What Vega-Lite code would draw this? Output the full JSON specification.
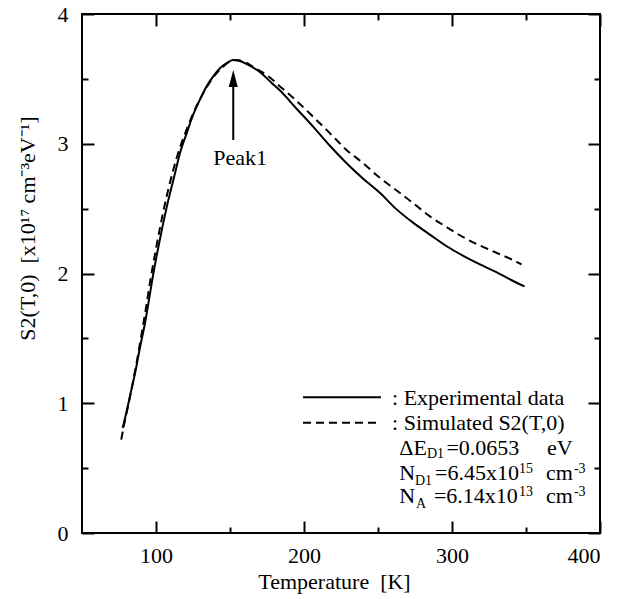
{
  "$schema": "https://vega.github.io/schema/vega-lite/v6.json",
  "width": 518,
  "height": 519,
  "autosize": {"type": "none"},
  "padding": {"left": 82, "top": 14, "right": 33, "bottom": 66},
  "background": "white",
  "config": {
    "view": {"stroke": "black", "strokeWidth": 2},
    "font": "Liberation Serif, Times New Roman, serif",
    "axis": {
      "domain": false, "grid": false, "tickColor": "black", "tickWidth": 2,
      "labelFont": "Liberation Serif, Times New Roman, serif", "labelFontSize": 22, "labelColor": "black",
      "titleFont": "Liberation Serif, Times New Roman, serif", "titleFontSize": 22, "titleFontWeight": "normal", "titleColor": "black"
    }
  },
  "datasets": {
    "curves": [
      {"series": "Experimental", "T": 77.5, "S": 0.81},
      {"series": "Experimental", "T": 80, "S": 0.93},
      {"series": "Experimental", "T": 83, "S": 1.085},
      {"series": "Experimental", "T": 86, "S": 1.24},
      {"series": "Experimental", "T": 89, "S": 1.42},
      {"series": "Experimental", "T": 92.6, "S": 1.62},
      {"series": "Experimental", "T": 95, "S": 1.78},
      {"series": "Experimental", "T": 98.2, "S": 2.0},
      {"series": "Experimental", "T": 101, "S": 2.17},
      {"series": "Experimental", "T": 104.9, "S": 2.39},
      {"series": "Experimental", "T": 108, "S": 2.55},
      {"series": "Experimental", "T": 112.8, "S": 2.77},
      {"series": "Experimental", "T": 116, "S": 2.92},
      {"series": "Experimental", "T": 120.7, "S": 3.08},
      {"series": "Experimental", "T": 125, "S": 3.22},
      {"series": "Experimental", "T": 129.7, "S": 3.34},
      {"series": "Experimental", "T": 134, "S": 3.44},
      {"series": "Experimental", "T": 138.7, "S": 3.52},
      {"series": "Experimental", "T": 143, "S": 3.58},
      {"series": "Experimental", "T": 148.8, "S": 3.63},
      {"series": "Experimental", "T": 152, "S": 3.645},
      {"series": "Experimental", "T": 156, "S": 3.64},
      {"series": "Experimental", "T": 162, "S": 3.61},
      {"series": "Experimental", "T": 168, "S": 3.57},
      {"series": "Experimental", "T": 172.5, "S": 3.53},
      {"series": "Experimental", "T": 178, "S": 3.47},
      {"series": "Experimental", "T": 183.8, "S": 3.41},
      {"series": "Experimental", "T": 195, "S": 3.27},
      {"series": "Experimental", "T": 206.3, "S": 3.13},
      {"series": "Experimental", "T": 217, "S": 2.99},
      {"series": "Experimental", "T": 228.8, "S": 2.85},
      {"series": "Experimental", "T": 240, "S": 2.73},
      {"series": "Experimental", "T": 251.4, "S": 2.62},
      {"series": "Experimental", "T": 262, "S": 2.5},
      {"series": "Experimental", "T": 273.9, "S": 2.39},
      {"series": "Experimental", "T": 285, "S": 2.3},
      {"series": "Experimental", "T": 296.4, "S": 2.21},
      {"series": "Experimental", "T": 307, "S": 2.14},
      {"series": "Experimental", "T": 318.9, "S": 2.07},
      {"series": "Experimental", "T": 330, "S": 2.01},
      {"series": "Experimental", "T": 340, "S": 1.95},
      {"series": "Experimental", "T": 349, "S": 1.9},
      {"series": "Simulated", "T": 76.5, "S": 0.72},
      {"series": "Simulated", "T": 78, "S": 0.81},
      {"series": "Simulated", "T": 81, "S": 0.97},
      {"series": "Simulated", "T": 84, "S": 1.14},
      {"series": "Simulated", "T": 87, "S": 1.32},
      {"series": "Simulated", "T": 90.5, "S": 1.55},
      {"series": "Simulated", "T": 93, "S": 1.72},
      {"series": "Simulated", "T": 96.5, "S": 1.97},
      {"series": "Simulated", "T": 99.5, "S": 2.16},
      {"series": "Simulated", "T": 103, "S": 2.37},
      {"series": "Simulated", "T": 106.5, "S": 2.56},
      {"series": "Simulated", "T": 111, "S": 2.77},
      {"series": "Simulated", "T": 115, "S": 2.93},
      {"series": "Simulated", "T": 120, "S": 3.09},
      {"series": "Simulated", "T": 125, "S": 3.23},
      {"series": "Simulated", "T": 130, "S": 3.35},
      {"series": "Simulated", "T": 135, "S": 3.45},
      {"series": "Simulated", "T": 140, "S": 3.53},
      {"series": "Simulated", "T": 145, "S": 3.59},
      {"series": "Simulated", "T": 150, "S": 3.635},
      {"series": "Simulated", "T": 154, "S": 3.645},
      {"series": "Simulated", "T": 160, "S": 3.63},
      {"series": "Simulated", "T": 166, "S": 3.59},
      {"series": "Simulated", "T": 172, "S": 3.55},
      {"series": "Simulated", "T": 177, "S": 3.51},
      {"series": "Simulated", "T": 185, "S": 3.43},
      {"series": "Simulated", "T": 195, "S": 3.33},
      {"series": "Simulated", "T": 206, "S": 3.21},
      {"series": "Simulated", "T": 217.6, "S": 3.08},
      {"series": "Simulated", "T": 228, "S": 2.96},
      {"series": "Simulated", "T": 240, "S": 2.85},
      {"series": "Simulated", "T": 251, "S": 2.74},
      {"series": "Simulated", "T": 262.6, "S": 2.64},
      {"series": "Simulated", "T": 274, "S": 2.54},
      {"series": "Simulated", "T": 285.1, "S": 2.44},
      {"series": "Simulated", "T": 296, "S": 2.36},
      {"series": "Simulated", "T": 307.6, "S": 2.28},
      {"series": "Simulated", "T": 318, "S": 2.22},
      {"series": "Simulated", "T": 330, "S": 2.16},
      {"series": "Simulated", "T": 340, "S": 2.11},
      {"series": "Simulated", "T": 347, "S": 2.07}
    ],
    "legendLines": [
      {"series": "Experimental", "T": 199.3, "T2": 252.0, "S": 1.046},
      {"series": "Simulated", "T": 199.3, "T2": 252.0, "S": 0.85}
    ],
    "bigText": [
      {"label": ": Experimental data", "T": 259.5, "S": 0.987},
      {"label": ": Simulated S2(T,0)", "T": 259.5, "S": 0.794},
      {"label": "ΔE", "T": 264.4, "S": 0.601},
      {"label": "=0.0653", "T": 296.2, "S": 0.601},
      {"label": "eV", "T": 364.2, "S": 0.601},
      {"label": "N", "T": 264.4, "S": 0.408},
      {"label": "=6.45x10", "T": 288.5, "S": 0.408},
      {"label": "cm", "T": 363.5, "S": 0.408},
      {"label": "N", "T": 264.4, "S": 0.231},
      {"label": "=6.14x10", "T": 287.8, "S": 0.231},
      {"label": "cm", "T": 363.5, "S": 0.231}
    ],
    "peakText": [
      {"label": "Peak1", "T": 156.8, "S": 2.836}
    ],
    "smallText": [
      {"label": "D1", "T": 283.1, "S": 0.578},
      {"label": "D1", "T": 275.0, "S": 0.37},
      {"label": "A", "T": 275.7, "S": 0.193},
      {"label": "15", "T": 345.3, "S": 0.462},
      {"label": "-3", "T": 382.4, "S": 0.462},
      {"label": "13", "T": 345.3, "S": 0.285},
      {"label": "-3", "T": 382.4, "S": 0.285}
    ],
    "arrowShaft": [
      {"T": 152.2, "S": 3.029, "S2": 3.44}
    ],
    "arrowHead": [
      {"T": 152.2, "S": 3.503}
    ]
  },
  "resolve": {"axis": {"x": "independent", "y": "independent"}},
  "layer": [
    {
      "data": {"name": "curves"},
      "transform": [{"filter": "datum.series === 'Experimental'"}],
      "mark": {"type": "line", "color": "black", "strokeWidth": 2, "interpolate": "monotone", "clip": true},
      "encoding": {
        "x": {"field": "T", "type": "quantitative", "scale": {"domain": [50, 400], "nice": false, "zero": false},
          "axis": {"orient": "bottom", "values": [100, 200, 300, 400], "tickSize": -12, "labelPadding": 24,
            "title": "Temperature\u00a0\u00a0[K]", "titleX": 252, "titleY": 38, "titleBaseline": "top"}},
        "y": {"field": "S", "type": "quantitative", "scale": {"domain": [0, 4], "nice": false},
          "axis": {"orient": "left", "values": [0, 1, 2, 3, 4], "tickSize": -12, "labelPadding": 26,
            "title": "S2(T,0)\u00a0\u00a0[x10¹⁷ cm⁻³eV⁻¹]", "titleX": -43, "titleY": 214, "titleAlign": "center"}}
      }
    },
    {
      "data": {"name": "curves"},
      "transform": [{"filter": "datum.series === 'Simulated'"}],
      "mark": {"type": "line", "color": "black", "strokeWidth": 2, "strokeDash": [8, 5], "interpolate": "monotone", "clip": true},
      "encoding": {
        "x": {"field": "T", "type": "quantitative", "scale": {"domain": [50, 400], "nice": false, "zero": false},
          "axis": {"orient": "top", "values": [100, 200, 300, 400], "tickSize": -12, "labels": false, "title": null}},
        "y": {"field": "S", "type": "quantitative", "scale": {"domain": [0, 4], "nice": false},
          "axis": {"orient": "right", "values": [0, 1, 2, 3, 4], "tickSize": -12, "labels": false, "title": null}}
      }
    },
    {
      "data": {"name": "legendLines"},
      "mark": {"type": "rule", "color": "black", "strokeWidth": 2},
      "encoding": {
        "x": {"field": "T", "type": "quantitative", "scale": {"domain": [50, 400], "nice": false, "zero": false},
          "axis": {"orient": "bottom", "values": [150, 250, 350], "tickSize": -6, "labels": false, "title": null}},
        "x2": {"field": "T2"},
        "y": {"field": "S", "type": "quantitative", "scale": {"domain": [0, 4], "nice": false},
          "axis": {"orient": "left", "values": [0.5, 1.5, 2.5, 3.5], "tickSize": -6, "labels": false, "title": null}},
        "strokeDash": {"field": "series", "type": "nominal", "scale": {"domain": ["Experimental", "Simulated"], "range": [[1, 0], [8, 5]]}, "legend": null}
      }
    },
    {
      "data": {"name": "bigText"},
      "mark": {"type": "text", "color": "black", "fontSize": 22, "baseline": "alphabetic", "align": "left"},
      "encoding": {
        "x": {"field": "T", "type": "quantitative", "scale": {"domain": [50, 400], "nice": false, "zero": false},
          "axis": {"orient": "top", "values": [150, 250, 350], "tickSize": -6, "labels": false, "title": null}},
        "y": {"field": "S", "type": "quantitative", "scale": {"domain": [0, 4], "nice": false},
          "axis": {"orient": "right", "values": [0.5, 1.5, 2.5, 3.5], "tickSize": -6, "labels": false, "title": null}},
        "text": {"field": "label"}
      }
    },
    {
      "data": {"name": "peakText"},
      "mark": {"type": "text", "color": "black", "fontSize": 22, "baseline": "alphabetic", "align": "center"},
      "encoding": {
        "x": {"field": "T", "type": "quantitative", "scale": {"domain": [50, 400], "nice": false, "zero": false}, "axis": null},
        "y": {"field": "S", "type": "quantitative", "scale": {"domain": [0, 4], "nice": false}, "axis": null},
        "text": {"field": "label"}
      }
    },
    {
      "data": {"name": "smallText"},
      "mark": {"type": "text", "color": "black", "fontSize": 14, "baseline": "alphabetic", "align": "left"},
      "encoding": {
        "x": {"field": "T", "type": "quantitative", "scale": {"domain": [50, 400], "nice": false, "zero": false}, "axis": null},
        "y": {"field": "S", "type": "quantitative", "scale": {"domain": [0, 4], "nice": false}, "axis": null},
        "text": {"field": "label"}
      }
    },
    {
      "data": {"name": "arrowShaft"},
      "mark": {"type": "rule", "color": "black", "strokeWidth": 2},
      "encoding": {
        "x": {"field": "T", "type": "quantitative", "scale": {"domain": [50, 400], "nice": false, "zero": false}, "axis": null},
        "y": {"field": "S", "type": "quantitative", "scale": {"domain": [0, 4], "nice": false}, "axis": null},
        "y2": {"field": "S2"}
      }
    },
    {
      "data": {"name": "arrowHead"},
      "mark": {"type": "point", "shape": "M0,-1L0.53,1L-0.53,1Z", "filled": true, "color": "black", "size": 289, "opacity": 1, "strokeWidth": 0},
      "encoding": {
        "x": {"field": "T", "type": "quantitative", "scale": {"domain": [50, 400], "nice": false, "zero": false}, "axis": null},
        "y": {"field": "S", "type": "quantitative", "scale": {"domain": [0, 4], "nice": false}, "axis": null}
      }
    }
  ]
}
